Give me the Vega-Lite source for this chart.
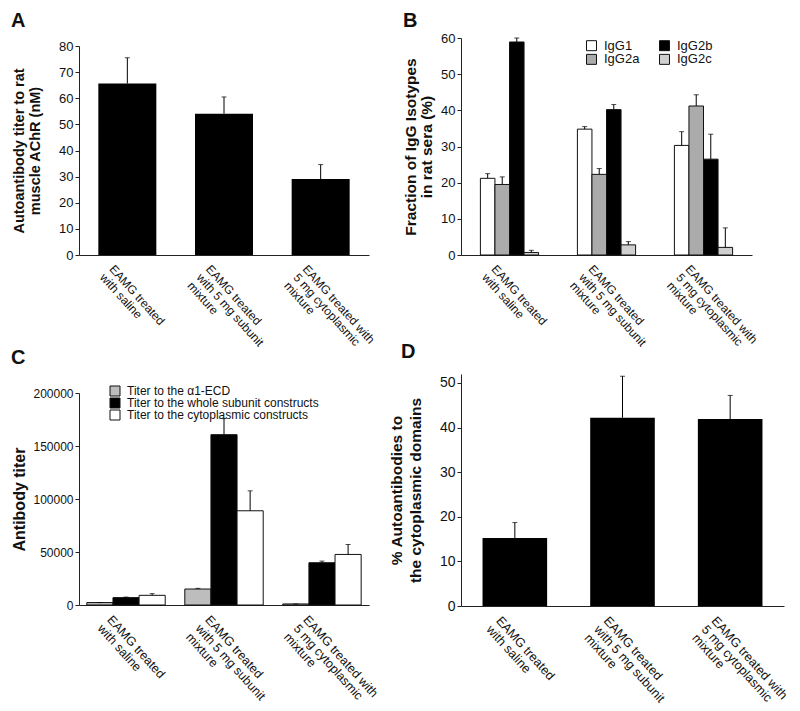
{
  "$schema": "https://vega.github.io/schema/vega-lite/v6.json",
  "padding": {"left": 11, "top": 11, "right": 5, "bottom": 5},
  "background": "white",
  "config": {
    "font": "Liberation Sans",
    "view": {"stroke": null},
    "axis": {"domainColor": "#222", "tickColor": "#222", "labelColor": "#111", "titleColor": "#111", "grid": false, "titleFontWeight": "bold", "tickSize": 4},
    "title": {"fontSize": 20, "fontWeight": "bold", "anchor": "start", "frame": "group", "color": "#111"},
    "legend": {"labelColor": "#111", "padding": 0}
  },
  "spacing": 9,
  "resolve": {"scale": {"fill": "independent", "xOffset": "independent", "x": "independent", "y": "independent"}, "legend": {"fill": "independent"}},
  "hconcat": [
    {
      "spacing": 138,
      "bounds": "flush",
      "resolve": {"scale": {"fill": "independent", "xOffset": "independent", "x": "independent", "y": "independent"}, "legend": {"fill": "independent"}},
      "vconcat": [
        {
          "title": {"text": "A", "dx": -68, "offset": 7},
          "width": 290,
          "height": 217,
          "data": {"values": [
            {"group": "EAMG treated|with saline", "value": 65.6, "upper": 75.5},
            {"group": "EAMG treated|with 5 mg subunit|mixture", "value": 54.1, "upper": 60.5},
            {"group": "EAMG treated with|5 mg cytoplasmic|mixture", "value": 29.1, "upper": 34.6}
          ]},
          "encoding": {
            "x": {"field": "group", "type": "nominal", "sort": null,
              "scale": {"paddingInner": 0.4, "paddingOuter": 0.2},
              "axis": {"title": null, "labelAngle": 48, "labelAlign": "left", "labelBaseline": "top", "labelExpr": "split(datum.label, '|')", "ticks": false, "labelPadding": 8, "labelOffset": -12, "labelFontSize": 12, "labelLineHeight": 12.5, "labelOverlap": false, "labelBound": false}}
          },
          "layer": [
            {"mark": {"type": "bar", "color": "black"},
             "encoding": {"y": {"field": "value", "type": "quantitative", "scale": {"domain": [0, 80], "nice": false, "range": [217, 8]},
               "axis": {"title": ["Autoantibody titer to rat", "muscle AChR (nM)"], "values": [0,10,20,30,40,50,60,70,80], "labelFontSize": 13, "titleFontSize": 14.5, "titleLineHeight": 16, "titlePadding": 16}}}},
            {"mark": {"type": "rule", "color": "black", "strokeWidth": 1},
             "encoding": {"y": {"field": "value", "type": "quantitative",
               "axis": {"title": ["Autoantibody titer to rat", "muscle AChR (nM)"], "values": [0,10,20,30,40,50,60,70,80], "labelFontSize": 13, "titleFontSize": 14.5, "titleLineHeight": 16, "titlePadding": 16}}, "y2": {"field": "upper"}}},
            {"mark": {"type": "tick", "color": "black", "size": 5, "thickness": 1},
             "encoding": {"y": {"field": "upper", "type": "quantitative",
               "axis": {"title": ["Autoantibody titer to rat", "muscle AChR (nM)"], "values": [0,10,20,30,40,50,60,70,80], "labelFontSize": 13, "titleFontSize": 14.5, "titleLineHeight": 16, "titlePadding": 16}}}}
          ]
        },
        {
          "title": {"text": "C", "dx": -68, "offset": 17},
          "width": 290,
          "height": 212,
          "data": {"values": [
            {"group": "EAMG treated|with saline", "target": "Titer to the α1-ECD", "value": 2300, "upper": 2300},
            {"group": "EAMG treated|with saline", "target": "Titer to the whole subunit constructs", "value": 6970, "upper": 7500},
            {"group": "EAMG treated|with saline", "target": "Titer to the cytoplasmic constructs", "value": 9130, "upper": 10700},
            {"group": "EAMG treated|with 5 mg subunit|mixture", "target": "Titer to the α1-ECD", "value": 15070, "upper": 15700},
            {"group": "EAMG treated|with 5 mg subunit|mixture", "target": "Titer to the whole subunit constructs", "value": 160700, "upper": 175800},
            {"group": "EAMG treated|with 5 mg subunit|mixture", "target": "Titer to the cytoplasmic constructs", "value": 88900, "upper": 107700},
            {"group": "EAMG treated with|5 mg cytoplasmic|mixture", "target": "Titer to the α1-ECD", "value": 1000, "upper": 1000},
            {"group": "EAMG treated with|5 mg cytoplasmic|mixture", "target": "Titer to the whole subunit constructs", "value": 39900, "upper": 41400},
            {"group": "EAMG treated with|5 mg cytoplasmic|mixture", "target": "Titer to the cytoplasmic constructs", "value": 47700, "upper": 57100}
          ]},
          "encoding": {
            "x": {"field": "group", "type": "nominal", "sort": null,
              "scale": {"paddingInner": 0.2, "paddingOuter": 0.08},
              "axis": {"title": null, "labelAngle": 48, "labelAlign": "left", "labelBaseline": "top", "labelExpr": "split(datum.label, '|')", "ticks": false, "labelPadding": 8, "labelOffset": -12, "labelFontSize": 12.5, "labelLineHeight": 13, "labelOverlap": false, "labelBound": false}},
            "xOffset": {"field": "target", "type": "nominal", "sort": ["Titer to the α1-ECD", "Titer to the whole subunit constructs", "Titer to the cytoplasmic constructs"], "scale": {"paddingInner": 0, "paddingOuter": 0}}
          },
          "layer": [
            {"mark": {"type": "bar", "stroke": "#111", "strokeWidth": 1},
             "encoding": {
               "y": {"field": "value", "type": "quantitative", "scale": {"domain": [0, 200000], "nice": false},
                 "axis": {"title": "Antibody titer", "values": [0, 50000, 100000, 150000, 200000], "format": "d", "labelFontSize": 12, "titleFontSize": 16, "titlePadding": 5}},
               "fill": {"field": "target", "type": "nominal",
                 "scale": {"domain": ["Titer to the α1-ECD", "Titer to the whole subunit constructs", "Titer to the cytoplasmic constructs"], "range": ["#bdbdbd", "black", "white"]},
                 "legend": {"title": null, "orient": "none", "legendX": 30, "legendY": -8, "symbolType": "square", "symbolSize": 100, "symbolStrokeColor": "#111", "symbolStrokeWidth": 1, "labelFontSize": 12, "rowPadding": 0, "clipHeight": 12, "labelOffset": 6, "labelLimit": 300}}
             }},
            {"mark": {"type": "rule", "color": "black", "strokeWidth": 1},
             "encoding": {"y": {"field": "value", "type": "quantitative",
               "axis": {"title": "Antibody titer", "values": [0, 50000, 100000, 150000, 200000], "format": "d", "labelFontSize": 12, "titleFontSize": 16, "titlePadding": 5}}, "y2": {"field": "upper"}}},
            {"mark": {"type": "tick", "color": "black", "size": 5, "thickness": 1},
             "encoding": {"y": {"field": "upper", "type": "quantitative",
               "axis": {"title": "Antibody titer", "values": [0, 50000, 100000, 150000, 200000], "format": "d", "labelFontSize": 12, "titleFontSize": 16, "titlePadding": 5}}}}
          ]
        }
      ]
    },
    {
      "spacing": 119,
      "bounds": "flush",
      "resolve": {"scale": {"fill": "independent", "xOffset": "independent", "x": "independent", "y": "independent"}, "legend": {"fill": "independent"}},
      "vconcat": [
        {
          "title": {"text": "B", "dx": -58, "offset": 1},
          "width": 291,
          "height": 217,
          "data": {"values": [
            {"group": "EAMG treated|with saline", "isotype": "IgG1", "value": 21.2, "upper": 22.5},
            {"group": "EAMG treated|with saline", "isotype": "IgG2a", "value": 19.5, "upper": 21.6},
            {"group": "EAMG treated|with saline", "isotype": "IgG2b", "value": 58.9, "upper": 60.0},
            {"group": "EAMG treated|with saline", "isotype": "IgG2c", "value": 0.7, "upper": 1.3},
            {"group": "EAMG treated|with 5 mg subunit|mixture", "isotype": "IgG1", "value": 34.8, "upper": 35.5},
            {"group": "EAMG treated|with 5 mg subunit|mixture", "isotype": "IgG2a", "value": 22.3, "upper": 23.9},
            {"group": "EAMG treated|with 5 mg subunit|mixture", "isotype": "IgG2b", "value": 40.2, "upper": 41.6},
            {"group": "EAMG treated|with 5 mg subunit|mixture", "isotype": "IgG2c", "value": 2.8, "upper": 3.7},
            {"group": "EAMG treated with|5 mg cytoplasmic|mixture", "isotype": "IgG1", "value": 30.3, "upper": 34.1},
            {"group": "EAMG treated with|5 mg cytoplasmic|mixture", "isotype": "IgG2a", "value": 41.2, "upper": 44.3},
            {"group": "EAMG treated with|5 mg cytoplasmic|mixture", "isotype": "IgG2b", "value": 26.5, "upper": 33.4},
            {"group": "EAMG treated with|5 mg cytoplasmic|mixture", "isotype": "IgG2c", "value": 2.1, "upper": 7.5}
          ]},
          "encoding": {
            "x": {"field": "group", "type": "nominal", "sort": null,
              "scale": {"paddingInner": 0.4, "paddingOuter": 0.2},
              "axis": {"title": null, "labelAngle": 48, "labelAlign": "left", "labelBaseline": "top", "labelExpr": "split(datum.label, '|')", "ticks": false, "labelPadding": 8, "labelOffset": -12, "labelFontSize": 12, "labelLineHeight": 12.5, "labelOverlap": false, "labelBound": false}},
            "xOffset": {"field": "isotype", "type": "nominal", "sort": ["IgG1", "IgG2a", "IgG2b", "IgG2c"], "scale": {"paddingInner": 0, "paddingOuter": 0}}
          },
          "layer": [
            {"mark": {"type": "bar", "stroke": "#111", "strokeWidth": 1},
             "encoding": {
               "y": {"field": "value", "type": "quantitative", "scale": {"domain": [0, 60], "nice": false},
                 "axis": {"title": ["Fraction of IgG Isotypes", "in rat sera (%)"], "values": [0,10,20,30,40,50,60], "labelFontSize": 13, "titleFontSize": 15.5, "titleLineHeight": 16, "titlePadding": 6}},
               "fill": {"field": "isotype", "type": "nominal",
                 "scale": {"domain": ["IgG1", "IgG2a", "IgG2b", "IgG2c"], "range": ["white", "#ababab", "black", "#cfcfcf"]},
                 "legend": {"title": null, "orient": "none", "legendX": 124, "legendY": 1, "columns": 2, "columnPadding": 18, "symbolType": "square", "symbolSize": 100, "symbolStrokeColor": "#111", "symbolStrokeWidth": 1, "labelFontSize": 13, "rowPadding": 0, "clipHeight": 12.7, "labelOffset": 6}}
             }},
            {"mark": {"type": "rule", "color": "black", "strokeWidth": 1},
             "encoding": {"y": {"field": "value", "type": "quantitative",
               "axis": {"title": ["Fraction of IgG Isotypes", "in rat sera (%)"], "values": [0,10,20,30,40,50,60], "labelFontSize": 13, "titleFontSize": 15.5, "titleLineHeight": 16, "titlePadding": 6}}, "y2": {"field": "upper"}}},
            {"mark": {"type": "tick", "color": "black", "size": 5, "thickness": 1},
             "encoding": {"y": {"field": "upper", "type": "quantitative",
               "axis": {"title": ["Fraction of IgG Isotypes", "in rat sera (%)"], "values": [0,10,20,30,40,50,60], "labelFontSize": 13, "titleFontSize": 15.5, "titleLineHeight": 16, "titlePadding": 6}}}}
          ]
        },
        {
          "title": {"text": "D", "dx": -60, "offset": 12},
          "width": 323,
          "height": 232,
          "data": {"values": [
            {"group": "EAMG treated|with saline", "value": 15.25, "upper": 18.7},
            {"group": "EAMG treated|with 5 mg subunit|mixture", "value": 42.2, "upper": 51.5},
            {"group": "EAMG treated with|5 mg cytoplasmic|mixture", "value": 41.9, "upper": 47.2}
          ]},
          "encoding": {
            "x": {"field": "group", "type": "nominal", "sort": null,
              "scale": {"paddingInner": 0.4, "paddingOuter": 0.2},
              "axis": {"title": null, "labelAngle": 48, "labelAlign": "left", "labelBaseline": "top", "labelExpr": "split(datum.label, '|')", "ticks": false, "labelPadding": 8, "labelOffset": -12, "labelFontSize": 12.7, "labelLineHeight": 13, "labelOverlap": false, "labelBound": false}}
          },
          "layer": [
            {"mark": {"type": "bar", "color": "black"},
             "encoding": {"y": {"field": "value", "type": "quantitative", "scale": {"domain": [0, 52], "nice": false},
               "axis": {"title": ["% Autoantibodies to", "the cytoplasmic domains"], "values": [0,10,20,30,40,50], "labelFontSize": 14, "titleFontSize": 15.5, "titleLineHeight": 19, "titlePadding": 16}}}},
            {"mark": {"type": "rule", "color": "black", "strokeWidth": 1},
             "encoding": {"y": {"field": "value", "type": "quantitative",
               "axis": {"title": ["% Autoantibodies to", "the cytoplasmic domains"], "values": [0,10,20,30,40,50], "labelFontSize": 14, "titleFontSize": 15.5, "titleLineHeight": 19, "titlePadding": 16}}, "y2": {"field": "upper"}}},
            {"mark": {"type": "tick", "color": "black", "size": 5, "thickness": 1},
             "encoding": {"y": {"field": "upper", "type": "quantitative",
               "axis": {"title": ["% Autoantibodies to", "the cytoplasmic domains"], "values": [0,10,20,30,40,50], "labelFontSize": 14, "titleFontSize": 15.5, "titleLineHeight": 19, "titlePadding": 16}}}}
          ]
        }
      ]
    }
  ]
}
